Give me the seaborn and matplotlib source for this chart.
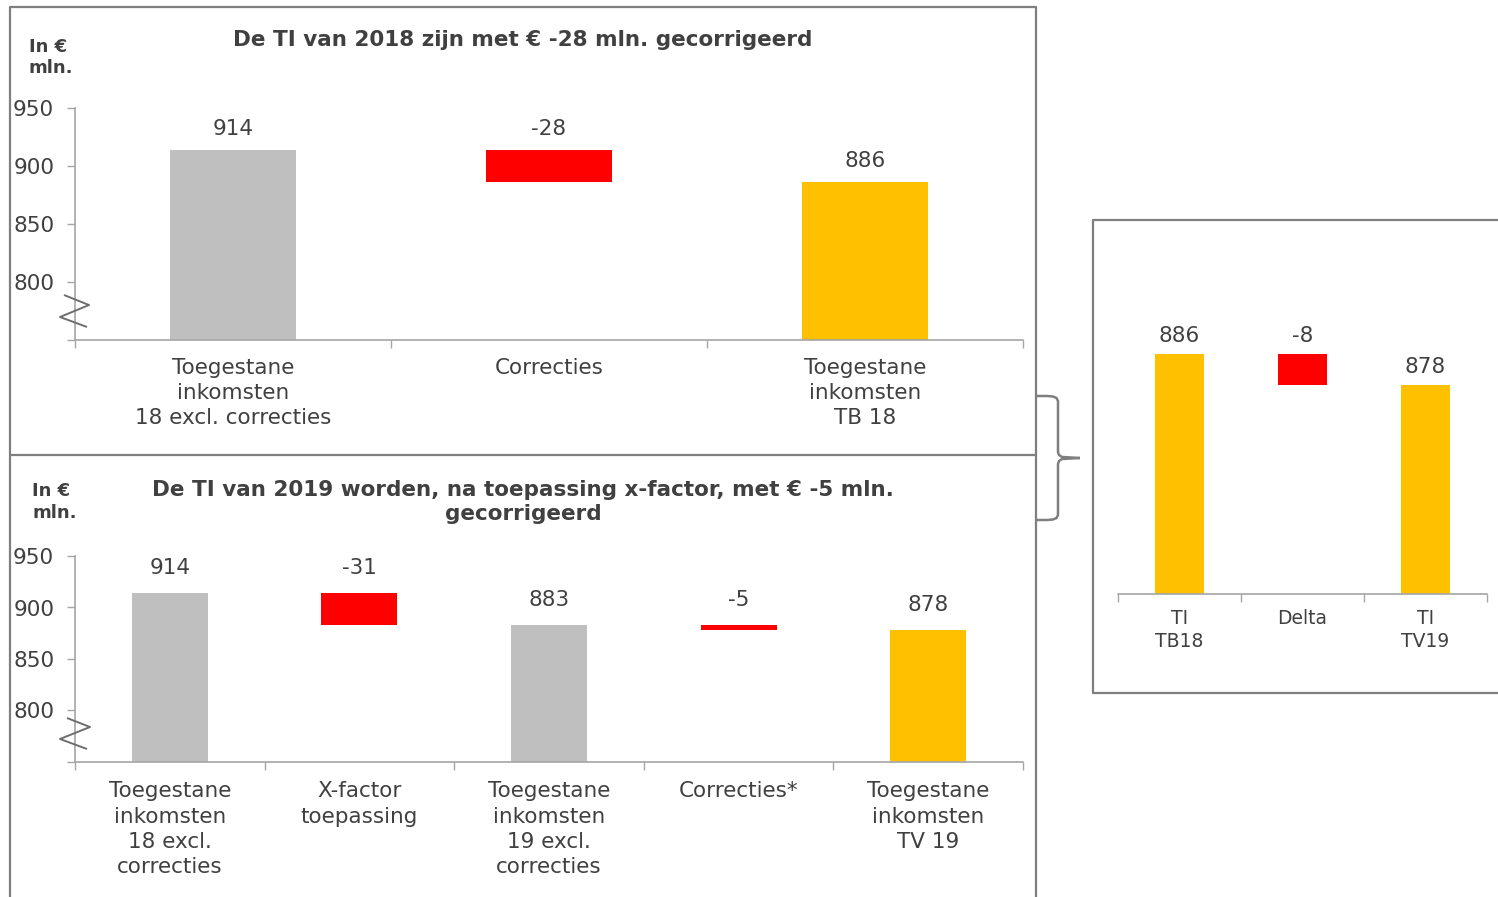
import numpy as np
import pandas as pd
import matplotlib
matplotlib.use("Agg")
import matplotlib.pyplot as plt
import seaborn as sns
from matplotlib.lines import Line2D

# ---------------- data ----------------
cats_top = ["Toegestane\ninkomsten\n18 excl. correcties", "Correcties",
            "Toegestane\ninkomsten\nTB 18"]
vals_top = [914, -28, 886]
kinds_top = ["total", "delta", "total"]

cats_bot = ["Toegestane\ninkomsten\n18 excl.\ncorrecties", "X-factor\ntoepassing",
            "Toegestane\ninkomsten\n19 excl.\ncorrecties", "Correcties*",
            "Toegestane\ninkomsten\nTV 19"]
vals_bot = [914, -31, 883, -5, 878]
kinds_bot = ["total", "delta", "total", "delta", "total"]

cats_right = ["TI\nTB18", "Delta", "TI\nTV19"]
vals_right = [886, -8, 878]
kinds_right = ["total", "delta", "total"]

title_top = "De TI van 2018 zijn met € -28 mln. gecorrigeerd"
title_bot = "De TI van 2019 worden, na toepassing x-factor, met € -5 mln.\ngecorrigeerd"
unit_label = "In €\nmln."

# ---------------- style ----------------
GRAY = "#BFBFBF"
RED = "#FF0000"
YELLOW = "#FFC000"
TXT = "#404040"
SPINE = "#A6A6A6"
BOX = "#7F7F7F"

colors_top = [GRAY, RED, YELLOW]
colors_bot = [GRAY, RED, GRAY, RED, YELLOW]
colors_right = [YELLOW, RED, YELLOW]

sns.set_theme(style="white")
plt.rcParams["font.family"] = ["DejaVu Sans"]

W, H = 1498, 897
fig = plt.figure(figsize=(W / 100, H / 100), dpi=100)


def fx(x):
    return x / W


def fy(y):
    return 1 - y / H


def axes_px(x0, y0, x1, y1):
    return fig.add_axes([fx(x0), fy(y1), fx(x1) - fx(x0), fy(y0) - fy(y1)])


def waterfall(ax, cats, vals, kinds, colors, ylim, label_off, cat_size, cat_pad,
              cat_ls, show_y):
    bottoms, tops = [], []
    running = 0
    for v, k in zip(vals, kinds):
        if k == "total":
            bottoms.append(0)
            tops.append(v)
            running = v
        else:
            new = running + v
            bottoms.append(min(running, new))
            tops.append(max(running, new))
            running = new
    df = pd.DataFrame({"cat": cats, "h": np.array(tops) - np.array(bottoms)})
    sns.barplot(data=df, x="cat", y="h", bottom=bottoms, width=0.4,
                errorbar=None, color=GRAY, saturation=1, facecolor=colors,
                linewidth=0, ax=ax)
    for i, (t, v) in enumerate(zip(tops, vals)):
        ax.annotate(f"{v}", (i, t), xytext=(0, label_off), textcoords="offset points",
                    ha="center", va="center", fontsize=15.5, color=TXT)
    ax.set_ylim(*ylim)
    ax.set_xlim(-0.5, len(cats) - 0.5)
    ax.set_xlabel("")
    ax.set_ylabel("")
    # category labels at centers, tick marks at boundaries
    ax.set_xticks(range(len(cats)))
    ax.set_xticklabels(cats, fontsize=cat_size, color=TXT, linespacing=cat_ls)
    ax.set_xticks(np.arange(-0.5, len(cats)), minor=True)
    ax.tick_params(axis="x", which="major", length=0, pad=cat_pad)
    ax.tick_params(axis="x", which="minor", length=6, width=1, color=SPINE,
                   direction="out", bottom=True)
    for s in ["top", "right"]:
        ax.spines[s].set_visible(False)
    ax.spines["bottom"].set_color(SPINE)
    ax.spines["bottom"].set_linewidth(1.2)
    if show_y:
        ax.spines["left"].set_color(SPINE)
        ax.spines["left"].set_linewidth(1.2)
        ticks = [750, 800, 850, 900, 950]
        ax.set_yticks(ticks)
        ax.set_yticklabels(["" if t == 750 else str(t) for t in ticks],
                           fontsize=15.5, color=TXT)
        ax.tick_params(axis="y", length=6, width=1, color=SPINE, pad=9, left=True,
                       direction="out")
    else:
        ax.spines["left"].set_visible(False)
        ax.set_yticks([])
    ax.set_facecolor("none")
    ax.grid(False)


# ---------------- axes ----------------
ax1 = axes_px(75, 108, 1023, 340)
waterfall(ax1, cats_top, vals_top, kinds_top, colors_top, (750, 950), 15, 15.5, 13,
          1.32, True)

ax2 = axes_px(75, 556, 1023, 762)
waterfall(ax2, cats_bot, vals_bot, kinds_bot, colors_bot, (750, 950), 18, 15.5, 14,
          1.32, True)

ax3 = axes_px(1118, 299.5, 1487, 594)
waterfall(ax3, cats_right, vals_right, kinds_right, colors_right, (824, 900), 13, 13.5,
          11, 1.25, False)

# ---------------- titles / unit labels ----------------
fig.text(fx(523), fy(40), title_top, ha="center", va="center", fontsize=15.5,
         fontweight="bold", color=TXT)
fig.text(fx(523), fy(502), title_bot, ha="center", va="center", fontsize=15.5,
         fontweight="bold", color=TXT, linespacing=1.2)
fig.text(fx(29), fy(57.5), unit_label, ha="left", va="center", fontsize=13,
         fontweight="bold", color=TXT, linespacing=1.22)
fig.text(fx(32), fy(502), unit_label, ha="left", va="center", fontsize=13,
         fontweight="bold", color=TXT, linespacing=1.22)


# ---------------- decorations ----------------
def pline(pts, color=BOX, lw=1.6):
    xs = [fx(p[0]) for p in pts]
    ys = [fy(p[1]) for p in pts]
    fig.add_artist(Line2D(xs, ys, transform=fig.transFigure, color=color, lw=lw,
                          solid_capstyle="butt", solid_joinstyle="round"))


# boxes
pline([(10, 900), (10, 7), (1036, 7), (1036, 900)])
pline([(10, 455), (1036, 455)])
pline([(1520, 220), (1093, 220), (1093, 693), (1520, 693)])

# axis break marks
pline([(64, 295), (89, 305), (60, 317), (87, 327)], color="#6E6E6E", lw=1.4)
pline([(67, 718), (90, 727), (60, 739), (87, 749)], color="#6E6E6E", lw=1.4)

# brace
pline([(1037, 396), (1047, 396), (1053, 396.5), (1056.5, 398), (1058, 401),
       (1058, 452), (1059, 455), (1062, 457), (1080, 458)], color="#7F7F7F", lw=1.8)
pline([(1080, 458), (1062, 459), (1059, 461), (1058, 464), (1058, 515),
       (1056.5, 518), (1053, 519.5), (1047, 520), (1037, 520)], color="#7F7F7F", lw=1.8)

fig.savefig("out.png", dpi=100, facecolor="white")
